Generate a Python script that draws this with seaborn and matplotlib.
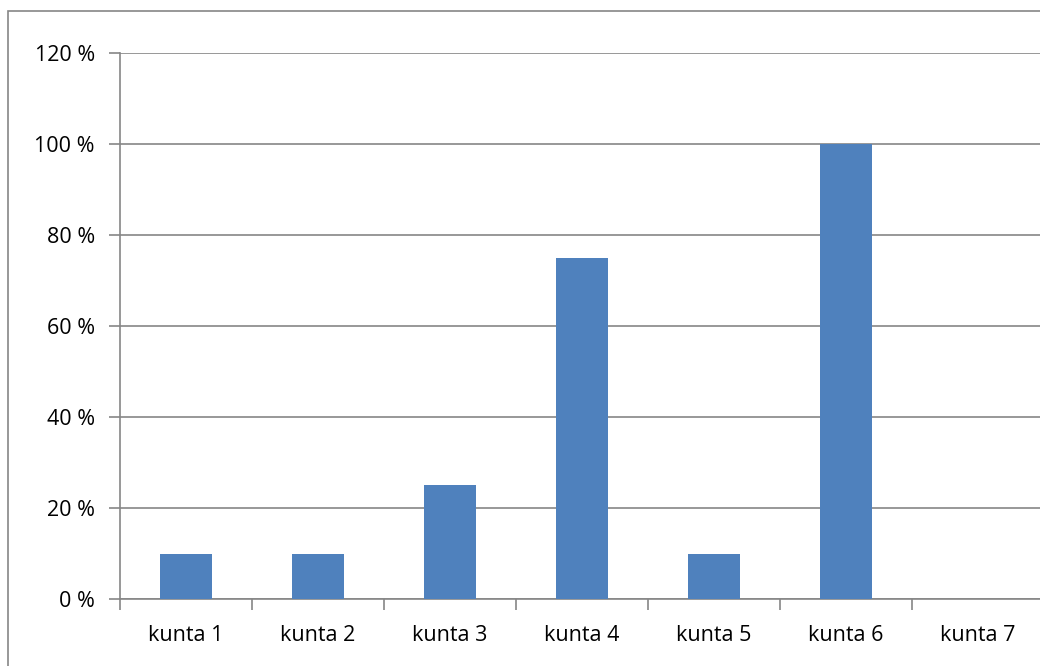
import matplotlib
matplotlib.use("Agg")
import matplotlib.pyplot as plt
import seaborn as sns
import pandas as pd
from matplotlib.patches import Rectangle

# data
kunnat = ["kunta 1", "kunta 2", "kunta 3", "kunta 4", "kunta 5", "kunta 6", "kunta 7"]
osuus = [10, 10, 25, 75, 10, 100, 0]
yticks = [0, 20, 40, 60, 80, 100, 120]

df = pd.DataFrame({"kunta": kunnat, "osuus": osuus})

sns.set_style("white")
plt.rcParams["font.family"] = ["Open Sans", "DejaVu Sans"]

grey = "#868686"
fig = plt.figure(figsize=(10.4, 6.66), dpi=100)
ax = fig.add_axes([120 / 1040, 1 - 599 / 666, 924 / 1040, 546 / 666])

sns.barplot(data=df, x="kunta", y="osuus", color="#4F81BD", width=0.4,
            saturation=1, linewidth=0, ax=ax, zorder=3)

ax.set_xlim(-0.5, len(kunnat) - 0.5)
ax.set_ylim(0, 120)
ax.set_yticks(yticks)
ax.set_yticklabels([f"{v} %" for v in yticks])
ax.set_xlabel("")
ax.set_ylabel("")

# ticks at category boundaries, labels centred
ax.set_xticks([i - 0.5 for i in range(len(kunnat) + 1)], minor=False)
ax.set_xticklabels([])
ax.set_xticks(range(len(kunnat)), minor=True)
ax.set_xticklabels(kunnat, minor=True)
ax.tick_params(axis="x", which="major", length=8, width=1.2, color=grey, direction="out", bottom=True)
ax.tick_params(axis="x", which="minor", length=0, pad=19, labelsize=15.5, labelcolor="black")
ax.tick_params(axis="y", length=8, width=1.2, color=grey, direction="out", left=True, pad=10,
               labelsize=15.5, labelcolor="black")

ax.yaxis.grid(True, color=grey, linewidth=1.2, zorder=0)
ax.set_axisbelow(True)
for s in ["top", "right"]:
    ax.spines[s].set_visible(False)
for s in ["left", "bottom"]:
    ax.spines[s].set_color(grey)
    ax.spines[s].set_linewidth(1.2)

# outer chart border
fig.patches.append(Rectangle((8 / 1040, -0.1), 1.2, 1 - 11 / 666 + 0.1,
                             transform=fig.transFigure, fill=False,
                             edgecolor=grey, linewidth=1.2))

fig.savefig("out.png", dpi=100)
